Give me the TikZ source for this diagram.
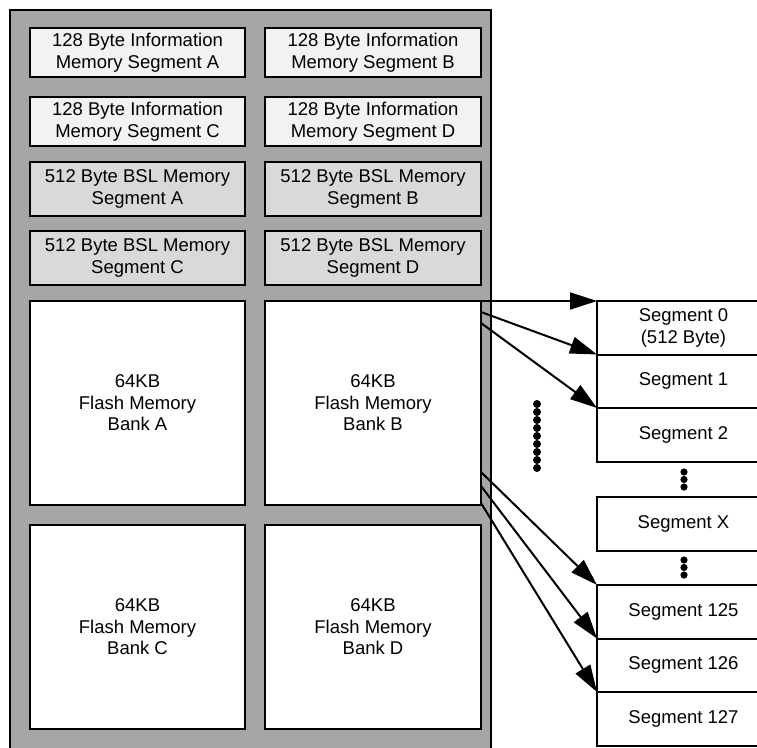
\documentclass[tikz,border=0pt]{standalone}
\usepackage{fontspec}
\setmainfont{Liberation Sans}
\usetikzlibrary{arrows.meta}
\definecolor{chipgray}{HTML}{A6A6A6}
\definecolor{infogray}{HTML}{F2F2F2}
\definecolor{bslgray}{HTML}{D9D9D9}
\begin{document}
\begin{tikzpicture}[x=1pt,y=-1pt,line join=miter,font=\fontsize{18.5}{21.5}\selectfont,
  membox/.style={draw=black,line width=2.6pt,align=center,inner sep=0pt,outer sep=0pt,anchor=north west},
  infobox/.style={membox,fill=infogray,minimum height=49},
  bslbox/.style={membox,fill=bslgray,minimum height=54},
  bankbox/.style={membox,fill=white,minimum height=204},
  segbox/.style={draw=black,line width=2pt,fill=white,align=center,inner sep=0pt,outer sep=0pt,
    anchor=north west,minimum width=173,minimum height=53.5},
  segarrow/.style={line width=2pt,-{Triangle[length=27pt,width=17pt]}}]
  \useasboundingbox (0,0) rectangle (757,747);
  \clip (0,0) rectangle (757,747);
  \node[draw=black,line width=2pt,fill=chipgray,inner sep=0pt,outer sep=0pt,anchor=north west,
    minimum width=481,minimum height=760] (chip) at (10,10) {};
  % information and BSL segments
  \node[infobox,minimum width=215] (infoA) at (30,28) {128 Byte Information\\Memory Segment A};
  \node[infobox,minimum width=216] (infoB) at (265,28) {128 Byte Information\\Memory Segment B};
  \node[infobox,minimum width=215] (infoC) at (30,97) {128 Byte Information\\Memory Segment C};
  \node[infobox,minimum width=216] (infoD) at (265,97) {128 Byte Information\\Memory Segment D};
  \node[bslbox,minimum width=215] (bslA) at (30,162) {512 Byte BSL Memory\\Segment A};
  \node[bslbox,minimum width=216] (bslB) at (265,162) {512 Byte BSL Memory\\Segment B};
  \node[bslbox,minimum width=215] (bslC) at (30,231) {512 Byte BSL Memory\\Segment C};
  \node[bslbox,minimum width=216] (bslD) at (265,231) {512 Byte BSL Memory\\Segment D};
  % flash banks
  \node[bankbox,minimum width=215] (bankA) at (30,301) {64KB\\Flash Memory\\Bank A};
  \node[bankbox,minimum width=216] (bankB) at (265,301) {64KB\\Flash Memory\\Bank B};
  \node[bankbox,minimum width=215] (bankC) at (30,525) {64KB\\Flash Memory\\Bank C};
  \node[bankbox,minimum width=216] (bankD) at (265,525) {64KB\\Flash Memory\\Bank D};
  % segments of bank B
  \node[segbox] (seg0) at (597,301) {Segment 0\\(512 Byte)};
  \node[segbox] (seg1) at (597,354.5) {Segment 1};
  \node[segbox] (seg2) at (597,408) {Segment 2};
  \node[segbox] (segX) at (597,497) {Segment X};
  \node[segbox] (seg125) at (597,585) {Segment 125};
  \node[segbox] (seg126) at (597,638.5) {Segment 126};
  \node[segbox] (seg127) at (597,692) {Segment 127};
  \coordinate (bB2) at (481,312);
  \coordinate (bB3) at (481,323);
  \coordinate (bB4) at (481,472);
  \coordinate (bB5) at (481,486);
  \coordinate (bB6) at (481,503);
  \draw[segarrow] (bankB.north east) -- (seg0.north west);
  \draw[segarrow] (bB2) -- (seg1.north west);
  \draw[segarrow] (bB3) -- (seg2.north west);
  \draw[segarrow] (bB4) -- (seg125.north west);
  \draw[segarrow] (bB5) -- (seg126.north west);
  \draw[segarrow] (bB6) -- (seg127.north west);
  % dots
  \foreach \i in {0,...,8}
    \fill (537,404+8*\i) circle (4);
  \foreach \i in {0,1,2} {
    \fill (684,472+7.5*\i) circle (3.6);
    \fill (684,560+7.5*\i) circle (3.6);
  }
\end{tikzpicture}
\end{document}
